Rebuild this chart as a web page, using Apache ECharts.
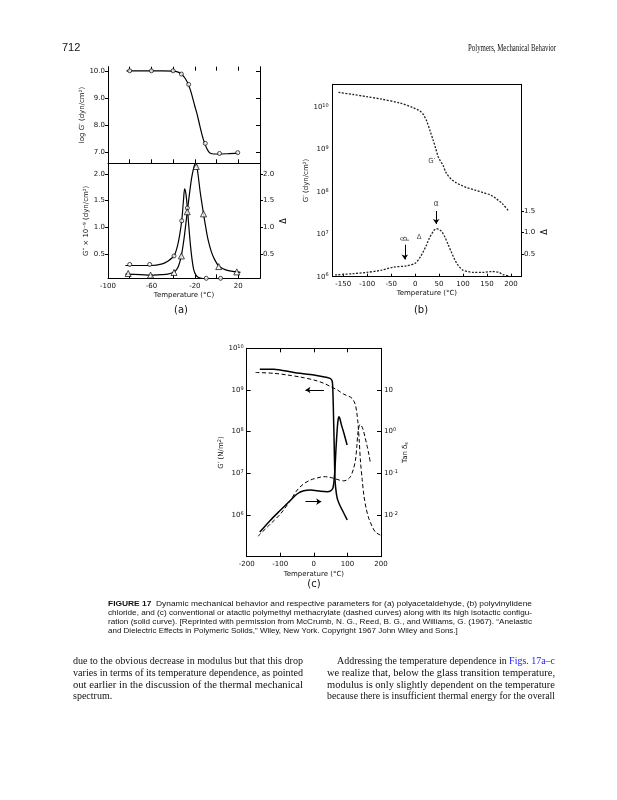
<!DOCTYPE html>
<html><head><meta charset="utf-8">
<script src="https://cdn.jsdelivr.net/npm/echarts@6/dist/echarts.min.js"></script>
<style>html,body{margin:0;padding:0;background:#fff}#c{width:617px;height:800px}</style>
</head><body><div id="c"></div>
<script>
// ---------- (a) polyacetaldehyde ----------
const aTicksT = [-100, -80, -60, -40, -20, 0, 20];
const aLabelsT = [-100, -60, -20, 20];
const aTopTicks = [7, 8, 9, 10];
const aBotTicks = [0.5, 1.0, 1.5, 2.0];
// log G' curve
const aTopCurveT = [-83, -70, -60, -50, -40, -36, -33, -30, -28, -26, -24, -22, -20, -18, -15.5, -13, -11, -9, -7, -5, 0, 10, 20];
const aTopCurveG = [10.0, 10.0, 10.0, 10.0, 9.99, 9.96, 9.9, 9.78, 9.66, 9.5, 9.28, 9.0, 8.7, 8.42, 8.0, 7.6, 7.35, 7.15, 7.02, 6.97, 6.95, 6.96, 6.98];
const aTopPtsT = [-80, -60, -40, -32.4, -25.7, -10.4, 2.7, 19.5];
const aTopPtsG = [10.0, 10.0, 10.0, 9.88, 9.5, 7.34, 6.97, 7.0];
// G'' curve (circles, narrow peak)
const aCircT = [-84, -70, -60, -50, -45, -39.2, -36, -34, -32.1, -30.5, -29.4, -28.2, -26.9, -25.5, -24, -22.5, -21, -19, -17, -14, -10, -5, 0, 4];
const aCircV = [0.28, 0.28, 0.28, 0.31, 0.36, 0.46, 0.65, 0.85, 1.12, 1.5, 1.72, 1.62, 1.36, 1.0, 0.65, 0.38, 0.2, 0.1, 0.06, 0.04, 0.03, 0.03, 0.03, 0.04];
const aCircPtsT = [-80, -61.6, -39.2, -32.1, -26.9, -9.5, 3.7];
const aCircPtsV = [0.30, 0.30, 0.46, 1.12, 1.36, 0.04, 0.04];
// Delta curve (triangles)
const aTriT = [-84, -70, -60, -50, -45, -40, -37, -35, -32.5, -30, -27, -25, -23, -21, -19.5, -18.5, -17, -15, -12, -10, -8, -5, -2, 2, 6, 10, 15, 19, 22];
const aTriV = [0.12, 0.11, 0.10, 0.11, 0.12, 0.15, 0.2, 0.27, 0.46, 0.78, 1.29, 1.62, 1.92, 2.12, 2.2, 2.18, 1.98, 1.65, 1.25, 1.0, 0.78, 0.55, 0.4, 0.27, 0.22, 0.19, 0.17, 0.16, 0.15];
const aTriPtsT = [-81.4, -60.8, -39.2, -32.4, -27, -18.7, -12, 2, 18.6];
const aTriPtsV = [0.13, 0.10, 0.15, 0.46, 1.29, 2.14, 1.25, 0.26, 0.16];

// ---------- (b) polyvinylidene chloride ----------
const bTicksT = [-150, -100, -50, 0, 50, 100, 150, 200];
const bLeftTicks = [6, 7, 8, 9, 10];          // log10 G'
const bRightTicks = [0.5, 1.0, 1.5];
const bGT = [-160, -130, -101, -70, -32, -4, 10, 17, 24, 31, 37.5, 43, 48, 53, 58, 65, 75, 86, 97, 107, 125, 142, 158, 170, 182, 194];
const bGlog = [10.34, 10.29, 10.24, 10.18, 10.09, 9.98, 9.9, 9.82, 9.67, 9.44, 9.22, 9.02, 8.83, 8.72, 8.63, 8.44, 8.3, 8.21, 8.15, 8.10, 8.04, 7.98, 7.92, 7.83, 7.72, 7.56];
const bDT = [-167, -130, -101, -70, -46, -18, 0, 10, 17, 24, 30, 34, 40, 44.5, 50, 55, 62, 69, 76, 83, 90, 100, 110, 121, 140, 162, 175, 183, 197];
const bD = [0.02, 0.05, 0.08, 0.13, 0.2, 0.23, 0.29, 0.42, 0.56, 0.72, 0.88, 0.96, 1.06, 1.09, 1.07, 1.03, 0.9, 0.72, 0.54, 0.37, 0.24, 0.13, 0.1, 0.08, 0.08, 0.1, 0.08, 0.03, 0.0];

// ---------- (c) polymethyl methacrylate ----------
const cTicksT = [-200, -100, 0, 100, 200];
const cLeftTicks = [6, 7, 8, 9, 10];          // log10 G'
const cRightTicks = [-2, -1, 0, 1];           // log10 tan delta
const cSolidGT = [-161, -119, -59.5, 0, 40, 50, 55, 57, 58.5, 60, 62.5, 65, 69.6, 77, 84.5, 92, 99.4];
const cSolidG = [9.50, 9.50, 9.42, 9.36, 9.30, 9.27, 9.2, 8.9, 8.4, 7.9, 6.95, 6.65, 6.40, 6.24, 6.12, 6.0, 5.88];
const cSolidTanT = [-161, -130, -99, -70, -49, -30, -10, 20, 40, 50, 57, 62, 66, 70, 72.5, 74.5, 77, 82, 90, 99];
const cSolidTan = [-2.41, -2.13, -1.88, -1.65, -1.49, -1.42, -1.40, -1.43, -1.44, -1.42, -1.35, -1.0, -0.4, 0.1, 0.3, 0.36, 0.33, 0.17, -0.05, -0.32];
const cDashGT = [-173.5, -120, -79, -40, 0, 30, 50, 70, 89, 104, 114, 120, 124, 128, 131, 135, 139, 144, 149, 156, 164, 174, 183.5, 198];
const cDashG = [9.42, 9.40, 9.36, 9.31, 9.24, 9.16, 9.08, 9.0, 8.9, 8.85, 8.8, 8.72, 8.64, 8.45, 8.24, 7.8, 7.27, 6.85, 6.47, 6.15, 5.91, 5.72, 5.59, 5.52];
const cDashTanT = [-166.5, -130, -99, -70, -49.5, -30, -10, 10, 30, 45, 59.5, 75, 89, 100, 109, 117, 124, 128, 131, 134, 137, 142, 147, 153, 159, 164, 168.5];
const cDashTan = [-2.51, -2.22, -1.97, -1.65, -1.40, -1.25, -1.16, -1.11, -1.08, -1.09, -1.12, -1.16, -1.18, -1.15, -1.08, -0.92, -0.68, -0.35, -0.04, 0.1, 0.17, 0.14, 0.04, -0.15, -0.36, -0.55, -0.76];

// ---------- page text ----------
const headerLeft = '712';
const headerRight = 'Polymers, Mechanical Behavior';
const captionBold = 'FIGURE 17';
const captionLines = [
  '  Dynamic mechanical behavior and respective parameters for (a) polyacetaldehyde, (b) polyvinylidene',
  'chloride, and (c) conventional or atactic polymethyl methacrylate (dashed curves) along with its high isotactic configu-',
  'ration (solid curve). [Reprinted with permission from McCrumb, N. G., Reed, B. G., and Williams, G. (1967). \u201cAnelastic',
  'and Dielectric Effects in Polymeric Solids,\u201d Wiley, New York. Copyright 1967 John Wiley and Sons.]'
];
const leftColumn = [
  'due to the obvious decrease in modulus but that this drop',
  'varies in terms of its temperature dependence, as pointed',
  'out earlier in the discussion of the thermal mechanical',
  'spectrum.'
];
const rightLink = 'Figs. 17a\u2013c';
const rightColumn = [
  'Addressing the temperature dependence in ',
  'we realize that, below the glass transition temperature,',
  'modulus is only slightly dependent on the temperature',
  'because there is insufficient thermal energy for the overall'
];

// ---------- build ----------
const FONT = 'DejaVu Sans';
const LBL = {fontFamily: FONT, fontSize: 7, color: '#111'};
const SUP = {s: {fontFamily: FONT, fontSize: 5, verticalAlign: 'top', color: '#111', padding: [0, 0, 3, 0]}, n: {fontFamily: FONT, fontSize: 7, color: '#111'}};
const zip = (a, b) => a.map((v, i) => [v, b[i]]);
const lineSt = {color: '#000', width: 1};

function xAxis(grid, min, max, o) {
  return Object.assign({
    type: 'value', gridIndex: grid, min: min, max: max, position: 'bottom',
    axisLine: {show: true, onZero: false, lineStyle: lineSt},
    axisTick: {show: true, inside: true, length: 4, lineStyle: lineSt},
    axisLabel: {show: false},
    splitLine: {show: false}
  }, o);
}
function yAxis(grid, min, max, o) {
  return Object.assign({
    type: 'value', gridIndex: grid, min: min, max: max, position: 'left',
    axisLine: {show: true, onZero: false, lineStyle: lineSt},
    axisTick: {show: true, inside: false, length: 4, lineStyle: lineSt},
    axisLabel: {show: false},
    splitLine: {show: false}
  }, o);
}
const tempName = {name: 'Temperature (\u00b0C)', nameLocation: 'middle', nameTextStyle: {fontFamily: FONT, fontSize: 7, color: '#111'}};
const supLabel = v => '{n|10}{s|' + v + '}';

const xAxes = [
  xAxis(0, -100, 40, {axisTick: {show: true, inside: true, length: 4, lineStyle: lineSt, customValues: aTicksT}}),
  xAxis(0, -100, 40, {position: 'top', axisLine: {show: false}, axisTick: {show: true, inside: true, length: 4, lineStyle: lineSt, customValues: aTicksT}}),
  xAxis(1, -100, 40, Object.assign({}, tempName, {nameGap: 13,
    axisTick: {show: true, inside: true, length: 4, lineStyle: lineSt, customValues: aTicksT},
    axisLabel: Object.assign({show: true, margin: 4, customValues: aLabelsT, formatter: v => String(v)}, LBL)})),
  xAxis(2, -172, 221, Object.assign({}, tempName, {nameGap: 12.5,
    axisTick: {show: true, inside: true, length: 3, lineStyle: lineSt, customValues: bTicksT},
    axisLabel: Object.assign({show: true, margin: 4, customValues: bTicksT, formatter: v => String(v)}, LBL)})),
  xAxis(2, -172, 221, {position: 'top', axisTick: {show: false}}),
  xAxis(3, -200, 200, Object.assign({}, tempName, {nameGap: 14,
    axisTick: {show: true, inside: true, length: 4, lineStyle: lineSt, customValues: cTicksT},
    axisLabel: Object.assign({show: true, margin: 4, customValues: cTicksT, formatter: v => String(v)}, LBL)})),
  xAxis(3, -200, 200, {position: 'top', axisTick: {show: true, inside: true, length: 4, lineStyle: lineSt, customValues: cTicksT}})
];

const yAxes = [
  yAxis(0, 6.61, 10.15, {name: "log G\u2032 (dyn/cm\u00b2)", nameLocation: 'middle', nameGap: 15, nameRotate: 90,
    nameTextStyle: {fontFamily: FONT, fontSize: 7, color: '#111'},
    axisTick: {show: true, length: 3, lineStyle: lineSt, customValues: aTopTicks},
    axisLabel: Object.assign({show: true, margin: 3, customValues: aTopTicks, formatter: v => v.toFixed(1)}, LBL)}),
  yAxis(0, 6.61, 10.15, {position: 'right', axisTick: {show: true, inside: true, length: 4, lineStyle: lineSt, customValues: aTopTicks}}),
  yAxis(1, 0.04, 2.2, {name: "G\u2033 \u00d7 10\u207b\u2079 (dyn/cm\u00b2)", nameLocation: 'middle', nameGap: 16, nameRotate: 90,
    nameTextStyle: {fontFamily: FONT, fontSize: 7, color: '#111'},
    axisTick: {show: true, length: 3, lineStyle: lineSt, customValues: aBotTicks},
    axisLabel: Object.assign({show: true, margin: 3, customValues: aBotTicks, formatter: v => v.toFixed(1)}, LBL)}),
  yAxis(1, 0.04, 2.2, {position: 'right',
    axisTick: {show: true, length: 3, lineStyle: lineSt, customValues: aBotTicks},
    axisLabel: Object.assign({show: true, margin: 3, customValues: aBotTicks, formatter: v => v.toFixed(1)}, LBL)}),
  yAxis(2, 6, 10.53, {name: "G\u2032 (dyn/cm\u00b2)", nameLocation: 'middle', nameGap: 10, nameRotate: 90,
    nameTextStyle: {fontFamily: FONT, fontSize: 7, color: '#111'},
    axisTick: {show: false},
    axisLabel: {show: true, margin: 4, customValues: bLeftTicks, formatter: supLabel, rich: SUP}}),
  yAxis(2, -0.02, 4.43, {position: 'right',
    axisTick: {show: true, length: 3, lineStyle: lineSt, customValues: bRightTicks},
    axisLabel: Object.assign({show: true, margin: 3, customValues: bRightTicks, formatter: v => v.toFixed(1)}, LBL)}),
  yAxis(3, 5, 10, {name: "{n|G\u2032 (N/m}{s|2}{n|)}", nameLocation: 'middle', nameGap: 14, nameRotate: 90,
    nameTextStyle: {fontFamily: FONT, fontSize: 7, color: '#111', rich: SUP},
    axisTick: {show: true, inside: true, length: 4, lineStyle: lineSt, customValues: cLeftTicks},
    axisLabel: {show: true, margin: 3, customValues: cLeftTicks, formatter: supLabel, rich: SUP}}),
  yAxis(3, -3, 2, {position: 'right', name: '{n|Tan \u03b4}{b|s}', nameLocation: 'middle', nameGap: 13, nameRotate: 90,
    nameTextStyle: {fontFamily: FONT, fontSize: 7, color: '#111', rich: {n: {fontFamily: FONT, fontSize: 7, color: '#111'}, b: {fontFamily: FONT, fontSize: 5, color: '#111', verticalAlign: 'bottom'}}},
    axisTick: {show: true, inside: true, length: 4, lineStyle: lineSt, customValues: cRightTicks},
    axisLabel: {show: true, margin: 3, customValues: cRightTicks, formatter: v => v === 1 ? '{n|10}' : supLabel(v), rich: SUP}})
];

function curve(xi, yi, xs, ys, style, smooth) {
  return {type: 'line', xAxisIndex: xi, yAxisIndex: yi, data: zip(xs, ys), showSymbol: false, symbol: 'none',
    smooth: smooth === undefined ? 0.35 : smooth, lineStyle: Object.assign({color: '#000', width: 1.2}, style), silent: true, z: 3};
}
function marks(xi, yi, xs, ys, symbol, size) {
  return {type: 'scatter', xAxisIndex: xi, yAxisIndex: yi, data: zip(xs, ys), symbol: symbol, symbolSize: size,
    itemStyle: {color: '#fff', borderColor: '#000', borderWidth: 0.9}, silent: true, z: 4};
}
function note(xi, yi, x, y, text, fs, rot) {
  return {type: 'scatter', xAxisIndex: xi, yAxisIndex: yi, data: [[x, y]], symbolSize: 1, clip: false,
    itemStyle: {color: 'rgba(0,0,0,0)'}, silent: true, z: 5,
    label: {show: true, position: 'inside', formatter: text, fontFamily: FONT, fontSize: fs || 7, color: '#111', rotate: rot || 0}};
}
function arrow(xi, yi, p1, p2) {
  return {type: 'line', xAxisIndex: xi, yAxisIndex: yi, data: [], silent: true,
    markLine: {silent: true, symbol: ['none', 'arrow'], symbolSize: 5, label: {show: false},
      lineStyle: {color: '#000', type: 'solid', width: 1}, animation: false,
      data: [[{coord: p1}, {coord: p2}]]}};
}

const dash = {type: [4, 2.5], width: 1};
const series = [
  curve(0, 0, aTopCurveT, aTopCurveG, {}, 0.3),
  marks(0, 0, aTopPtsT, aTopPtsG, 'circle', 4),
  curve(2, 2, aCircT, aCircV, {}, 0.3),
  marks(2, 2, aCircPtsT, aCircPtsV, 'circle', 4),
  curve(2, 2, aTriT, aTriV, {}, 0.3),
  marks(2, 2, aTriPtsT, aTriPtsV, 'triangle', 6),
  curve(3, 4, bGT, bGlog, {type: [2, 1.5], width: 1.3, color: '#222'}, 0.3),
  curve(3, 5, bDT, bD, {type: [2, 1.5], width: 1.3, color: '#222'}, 0.3),
  note(3, 4, 35, 8.73, "G\u2032", 7),
  note(3, 5, 44, 1.66, '\u03b1', 8),
  arrow(3, 5, [44, 1.5], [44, 1.2]),
  note(3, 5, -21.5, 0.86, '\u03b2', 8, 90),
  arrow(3, 5, [-21.5, 0.72], [-21.5, 0.38]),
  note(3, 5, 8.5, 0.9, '\u0394', 7),
  curve(5, 6, cSolidGT, cSolidG, {width: 1.5}, 0.2),
  curve(5, 7, cSolidTanT, cSolidTan, {width: 1.5}, 0.3),
  curve(5, 6, cDashGT, cDashG, dash, 0.3),
  curve(5, 7, cDashTanT, cDashTan, dash, 0.3),
  arrow(5, 6, [30, 9.0], [-25, 9.0]),
  arrow(5, 6, [-25, 6.32], [22, 6.32])
];

// text measuring so that justified lines fill their column like the printed page
const mctx = document.createElement('canvas').getContext('2d');
function tw(text, font) { mctx.font = font; return mctx.measureText(text).width; }

const F_CAP = '8px "Liberation Sans"';
const F_CAPB = 'bold 8px "Liberation Sans"';
const F_BODY = '10px "Liberation Serif"';
const F_HEAD = '10px "Liberation Serif"';

const graphic = [
  {type: 'text', x: 62, y: 48, style: {text: headerLeft, font: '11px "Liberation Sans"', fill: '#111', verticalAlign: 'middle'}},
  {type: 'text', x: 468, y: 48, scaleX: 88 / tw(headerRight, F_HEAD), originX: 0, style: {text: headerRight, font: F_HEAD, fill: '#111', verticalAlign: 'middle'}},
  {type: 'text', x: 181, y: 310, style: {text: '(a)', font: '10px "DejaVu Sans"', fill: '#111', align: 'center', verticalAlign: 'middle'}},
  {type: 'text', x: 421, y: 310, style: {text: '(b)', font: '10px "DejaVu Sans"', fill: '#111', align: 'center', verticalAlign: 'middle'}},
  {type: 'text', x: 314, y: 584, style: {text: '(c)', font: '10px "DejaVu Sans"', fill: '#111', align: 'center', verticalAlign: 'middle'}},
  {type: 'text', x: 284, y: 221, rotation: Math.PI / 2, style: {text: '\u0394', font: '8px "DejaVu Sans"', fill: '#111', align: 'center', verticalAlign: 'middle'}},
  {type: 'text', x: 545, y: 232, rotation: Math.PI / 2, style: {text: '\u0394', font: '8px "DejaVu Sans"', fill: '#111', align: 'center', verticalAlign: 'middle'}}
];
// caption
captionLines.forEach((t, i) => {
  const full = i === 0 ? tw(captionBold, F_CAPB) + tw(t, F_CAP) : tw(t, F_CAP);
  const sx = i < 3 ? 424 / full : 1;
  graphic.push({type: 'text', x: 108, y: 603.3 + i * 9.2, scaleX: sx, originX: 0,
    style: {text: i === 0 ? '{b|' + captionBold + '}' + t : t, font: F_CAP, fill: '#111', verticalAlign: 'middle',
      rich: {b: {fontFamily: 'Liberation Sans', fontWeight: 'bold', fontSize: 8, fill: '#111'}}}});
});
// left column
leftColumn.forEach((t, i) => {
  const sx = i < 3 ? 230 / tw(t, F_BODY) : 1;
  graphic.push({type: 'text', x: 73, y: 661.7 + i * 11.7, scaleX: sx, originX: 0,
    style: {text: t, font: F_BODY, fill: '#111', verticalAlign: 'middle'}});
});
// right column
rightColumn.forEach((t, i) => {
  const x0 = i === 0 ? 337 : 327;
  const w = i === 0 ? tw(t, F_BODY) + tw(rightLink, F_BODY) : tw(t, F_BODY);
  const sx = (555 - x0) / w;
  graphic.push({type: 'text', x: x0, y: 661.7 + i * 11.7, scaleX: sx, originX: 0,
    style: {text: i === 0 ? t + '{blue|' + rightLink + '}' : t, font: F_BODY, fill: '#111', verticalAlign: 'middle',
      rich: {blue: {fontFamily: 'Liberation Serif', fontSize: 10, fill: '#1a1aff'}}}});
});

const option = {
  animation: false,
  backgroundColor: '#fff',
  grid: [
    {left: 108, top: 66.7, width: 152, height: 96.6},
    {left: 108, top: 163.3, width: 152, height: 115},
    {left: 332.7, top: 84.3, width: 188.3, height: 192.4},
    {left: 246.7, top: 348.3, width: 134.3, height: 208.4}
  ],
  xAxis: xAxes,
  yAxis: yAxes,
  series: series,
  graphic: graphic
};
const chart = echarts.init(document.getElementById('c'), null, {renderer: 'canvas'});
chart.setOption(option);
</script></body></html>
